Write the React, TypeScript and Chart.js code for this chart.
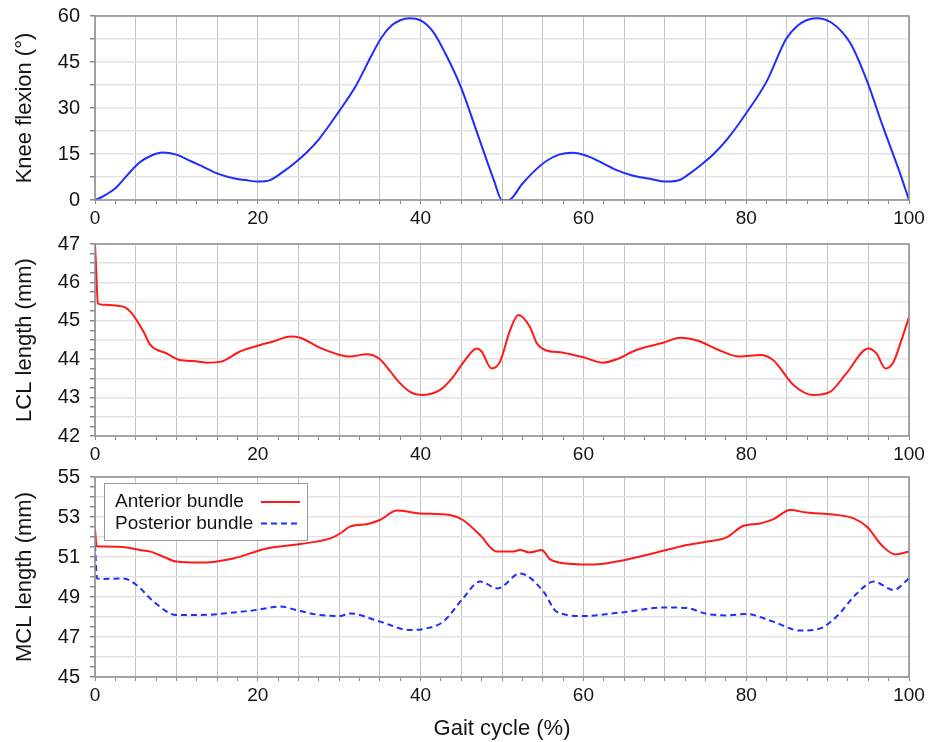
import React, { useEffect, useRef } from 'react';
import { Chart, registerables } from 'chart.js';

Chart.register(...registerables);

// ---------- data ----------
const kneeTitle = 'Knee flexion (°)';
const lclTitle = 'LCL length (mm)';
const mclTitle = 'MCL length (mm)';
const xTitle = 'Gait cycle (%)';
const seriesNames = ['Anterior bundle', 'Posterior bundle'];

const kneeX = [0, 1, 2.5, 4, 5.5, 7, 8.3, 10, 11.5, 13, 15, 17, 18.5, 20, 21.5, 23, 24.5, 26, 27.5, 30, 32, 34, 35.2, 36.4, 37.5, 38.6, 40, 41.5, 43, 45, 47, 49, 50, 50.8, 52.5, 54, 55.5, 57, 58.7, 60.5, 62, 64, 66, 68, 70.2, 71.8, 73, 74.7, 76, 77.6, 80, 82.5, 84.9, 86.2, 87.4, 88.6, 90.5, 92.8, 94.8, 96.8, 98.9, 100];
const kneeY = [0, 1.2, 3.8, 8.2, 12.3, 14.6, 15.5, 14.8, 13.0, 11.2, 8.7, 7.1, 6.5, 6.0, 6.5, 9.0, 12.0, 15.5, 19.8, 29.0, 37.0, 47.3, 53.0, 56.8, 58.6, 59.3, 58.6, 55.0, 48.0, 36.5, 21.5, 6.5, 0, 0, 5.3, 9.5, 12.8, 14.8, 15.4, 14.3, 12.5, 9.8, 8.0, 7.0, 6.0, 6.5, 8.5, 12.0, 15.0, 19.6, 28.3, 38.6, 52.5, 56.6, 58.6, 59.3, 57.8, 51.1, 39.1, 23.9, 8.7, 0];

const lclX = [0, 0.15, 0.35, 1, 2.5, 3.7, 4.5, 5.1, 6, 6.8, 8.8, 10.4, 12.1, 13.7, 15.4, 17.8, 20.3, 21.9, 24.0, 25.2, 27.6, 30.1, 31.3, 33.4, 35.0, 36.2, 37.5, 38.7, 40.3, 42.4, 44.0, 45.3, 46.9, 47.5, 48.7, 49.75, 51.0, 52.0, 53.4, 54.3, 55.3, 57.5, 60.0, 62.4, 64.1, 66.5, 69.8, 71.9, 74.1, 76.4, 79.2, 81.7, 83.3, 85.8, 88.2, 90.3, 92.3, 95.0, 96.0, 97.1, 98.1, 99.0, 100];
const lclY = [47, 46.3, 45.45, 45.42, 45.4, 45.35, 45.2, 45.02, 44.7, 44.37, 44.15, 43.98, 43.95, 43.91, 43.93, 44.2, 44.37, 44.46, 44.59, 44.56, 44.3, 44.11, 44.07, 44.13, 44.0, 43.7, 43.37, 43.15, 43.07, 43.2, 43.54, 43.93, 44.28, 44.2, 43.76, 43.93, 44.76, 45.15, 44.85, 44.41, 44.24, 44.17, 44.05, 43.91, 44.0, 44.24, 44.43, 44.56, 44.48, 44.26, 44.07, 44.11, 43.98, 43.33, 43.07, 43.15, 43.63, 44.28, 44.15, 43.76, 43.93, 44.45, 45.1];

const antX = [0, 0.2, 1, 3.9, 5.5, 6.8, 8.5, 10.0, 12.9, 17.0, 21.1, 25.2, 28.9, 30.2, 31.3, 33.5, 35.0, 37.1, 39.9, 43.6, 45.2, 47.3, 49.35, 51.4, 52.2, 53.4, 54.9, 55.3, 55.9, 58.8, 61.2, 65.1, 70.2, 72.7, 75.2, 77.6, 79.6, 81.7, 83.3, 85.4, 87.4, 90.7, 93.2, 94.8, 96.8, 98.3, 100];
const antY = [52.4, 51.55, 51.52, 51.47, 51.35, 51.27, 51.0, 50.77, 50.72, 50.93, 51.43, 51.65, 51.93, 52.2, 52.52, 52.65, 52.85, 53.32, 53.18, 53.1, 52.85, 52.1, 51.27, 51.27, 51.35, 51.23, 51.35, 51.2, 50.88, 50.65, 50.62, 50.85, 51.35, 51.6, 51.77, 51.98, 52.55, 52.68, 52.88, 53.35, 53.22, 53.13, 52.93, 52.52, 51.52, 51.13, 51.27];

const postX = [0, 0.25, 1, 3.5, 5.1, 7.2, 10.0, 12.9, 17.0, 20.3, 22.7, 25.2, 27.6, 30.1, 31.3, 35.0, 38.7, 40.7, 42.8, 45.2, 47.3, 49.5, 52.2, 55.1, 56.7, 60.0, 64.5, 70.2, 72.7, 75.2, 77.6, 80.0, 83.3, 86.6, 89.1, 91.1, 93.6, 95.7, 98.1, 100];
const postY = [51.6, 49.93, 49.9, 49.93, 49.6, 48.77, 48.1, 48.1, 48.22, 48.38, 48.52, 48.3, 48.1, 48.05, 48.18, 47.77, 47.35, 47.43, 47.77, 48.93, 49.77, 49.43, 50.18, 49.27, 48.27, 48.05, 48.22, 48.48, 48.45, 48.15, 48.08, 48.15, 47.77, 47.32, 47.43, 48.02, 49.18, 49.77, 49.35, 49.93];

// ---------- styling / layout ----------
const FONT = "'Liberation Sans', Arial, Helvetica, sans-serif";
const TEXT = '#151515';
const W = 934;
const PLOT_LEFT = 95;
const PLOT_RIGHT = 909;

const isMult = (v: number, m: number) => Math.abs(v / m - Math.round(v / m)) < 1e-6;

const pts = (xs: number[], ys: number[]) => xs.map((x, i) => ({ x, y: ys[i] }));

const borderPlugin = {
  id: 'plotBorder',
  afterDatasetsDraw(chart: any) {
    const { ctx, chartArea: a } = chart;
    ctx.save();
    ctx.strokeStyle = '#8e8e8e';
    ctx.lineWidth = 1.5;
    ctx.strokeRect(a.left, a.top, a.right - a.left, a.bottom - a.top);
    ctx.restore();
  },
};

const legendPlugin = {
  id: 'trailingLegend',
  afterDraw(chart: any) {
    const { ctx, chartArea: a } = chart;
    const x = a.left + 9;
    const y = a.top + 6;
    const w = 203;
    const h = 57;
    ctx.save();
    ctx.fillStyle = '#ffffff';
    ctx.fillRect(x, y, w, h);
    ctx.strokeStyle = '#9a9a9a';
    ctx.lineWidth = 1;
    ctx.strokeRect(x + 0.5, y + 0.5, w, h);
    ctx.font = `19px ${FONT}`;
    ctx.textBaseline = 'middle';
    ctx.textAlign = 'left';
    chart.data.datasets.forEach((ds: any, i: number) => {
      const cy = y + 19 + i * 21.5;
      ctx.fillStyle = TEXT;
      ctx.fillText(ds.label, x + 11, cy);
      ctx.strokeStyle = ds.borderColor;
      ctx.lineWidth = 2.2;
      ctx.setLineDash(ds.borderDash || []);
      ctx.beginPath();
      ctx.moveTo(x + 157, cy);
      ctx.lineTo(x + 196, cy);
      ctx.stroke();
      ctx.setLineDash([]);
    });
    ctx.restore();
  },
};

type Spec = {
  top: number;
  height: number;
  padTop: number;
  plotBottom: number; // relative to canvas
  yMin: number;
  yMax: number;
  yStep: number;
  yGrid: number;
  yLabel: (v: number) => boolean;
  yTitle: string;
  showXTitle: boolean;
  datasets: any[];
  legend: boolean;
};

function makeConfig(s: Spec): any {
  const xAxisH = s.height - s.plotBottom;
  return {
    type: 'line',
    data: { datasets: s.datasets },
    options: {
      animation: false,
      responsive: false,
      events: [],
      layout: { padding: { top: s.padTop, right: W - PLOT_RIGHT, bottom: 0, left: 0 } },
      plugins: { legend: { display: false }, tooltip: { enabled: false } },
      elements: { point: { radius: 0 } },
      scales: {
        x: {
          type: 'linear',
          min: 0,
          max: 100,
          afterFit: (sc: any) => {
            sc.height = xAxisH;
          },
          ticks: {
            stepSize: 2.5,
            maxTicksLimit: 200,
            autoSkip: false,
            maxRotation: 0,
            padding: 3,
            color: TEXT,
            font: { family: FONT, size: 19 },
            callback: (v: number) => (isMult(v, 20) ? String(Math.round(v)) : ''),
          },
          grid: {
            color: (c: any) => (c.tick && isMult(c.tick.value, 5) ? '#c4c4c4' : 'rgba(0,0,0,0)'),
            tickColor: '#8a8a8a',
            tickLength: 4,
            lineWidth: 1,
          },
          border: { display: false },
          title: {
            display: s.showXTitle,
            text: xTitle,
            color: TEXT,
            font: { family: FONT, size: 22 },
            padding: { top: 0, bottom: 0 },
          },
        },
        y: {
          type: 'linear',
          min: s.yMin,
          max: s.yMax,
          afterFit: (sc: any) => {
            sc.width = PLOT_LEFT;
          },
          ticks: {
            stepSize: s.yStep,
            maxTicksLimit: 200,
            autoSkip: false,
            padding: 10,
            color: TEXT,
            font: { family: FONT, size: 20 },
            callback: (v: number) => (s.yLabel(v) ? String(Math.round(v)) : ''),
          },
          grid: {
            color: (c: any) => (c.tick && isMult(c.tick.value, s.yGrid) ? '#e3e3e3' : 'rgba(0,0,0,0)'),
            tickColor: '#8a8a8a',
            tickLength: 5,
            lineWidth: 1.5,
          },
          border: { display: false },
          title: {
            display: true,
            text: s.yTitle,
            color: TEXT,
            font: { family: FONT, size: 22 },
            padding: { top: 12, bottom: 0 },
          },
        },
      },
    },
    plugins: s.legend ? [borderPlugin, legendPlugin] : [borderPlugin],
  };
}

const lineDs = (label: string, xs: number[], ys: number[], color: string, dash?: number[]) => ({
  label,
  data: pts(xs, ys),
  borderColor: color,
  backgroundColor: color,
  borderWidth: 2,
  borderDash: dash || [],
  pointRadius: 0,
  fill: false,
  cubicInterpolationMode: 'monotone',
});

// chart-area top = canvas top + padTop (padTop must be >= 22 so that the axis
// label overflow does not push the plot down)
const specs: Spec[] = [
  {
    top: -8,
    height: 248,
    padTop: 24,
    plotBottom: 208,
    yMin: 0,
    yMax: 60,
    yStep: 7.5,
    yGrid: 7.5,
    yLabel: (v) => isMult(v, 15),
    yTitle: kneeTitle,
    showXTitle: false,
    datasets: [lineDs('Knee flexion', kneeX, kneeY, '#1f2dff')],
    legend: false,
  },
  {
    top: 222,
    height: 248,
    padTop: 22,
    plotBottom: 214,
    yMin: 42,
    yMax: 47,
    yStep: 0.25,
    yGrid: 0.5,
    yLabel: (v) => isMult(v, 1),
    yTitle: lclTitle,
    showXTitle: false,
    datasets: [lineDs('LCL', lclX, lclY, '#ff1a1a')],
    legend: false,
  },
  {
    top: 455,
    height: 287,
    padTop: 22,
    plotBottom: 222,
    yMin: 45,
    yMax: 55,
    yStep: 0.5,
    yGrid: 1,
    yLabel: (v) => isMult(v, 1) && isMult(v - 45, 2),
    yTitle: mclTitle,
    showXTitle: true,
    datasets: [
      lineDs(seriesNames[0], antX, antY, '#ff1a1a'),
      lineDs(seriesNames[1], postX, postY, '#1f2dff', [6, 4]),
    ],
    legend: true,
  },
];

function Panel({ spec }: { spec: Spec }) {
  const ref = useRef<HTMLCanvasElement>(null);
  useEffect(() => {
    if (!ref.current) return;
    const chart = new Chart(ref.current, makeConfig(spec));
    return () => chart.destroy();
  }, [spec]);
  return (
    <canvas
      ref={ref}
      width={W}
      height={spec.height}
      style={{ position: 'absolute', left: 0, top: spec.top, width: W, height: spec.height }}
    />
  );
}

export default function App() {
  return (
    <div style={{ position: 'absolute', left: 0, top: 0, width: W, height: 742, background: '#fff', overflow: 'hidden' }}>
      {specs.map((s, i) => (
        <Panel key={i} spec={s} />
      ))}
    </div>
  );
}
